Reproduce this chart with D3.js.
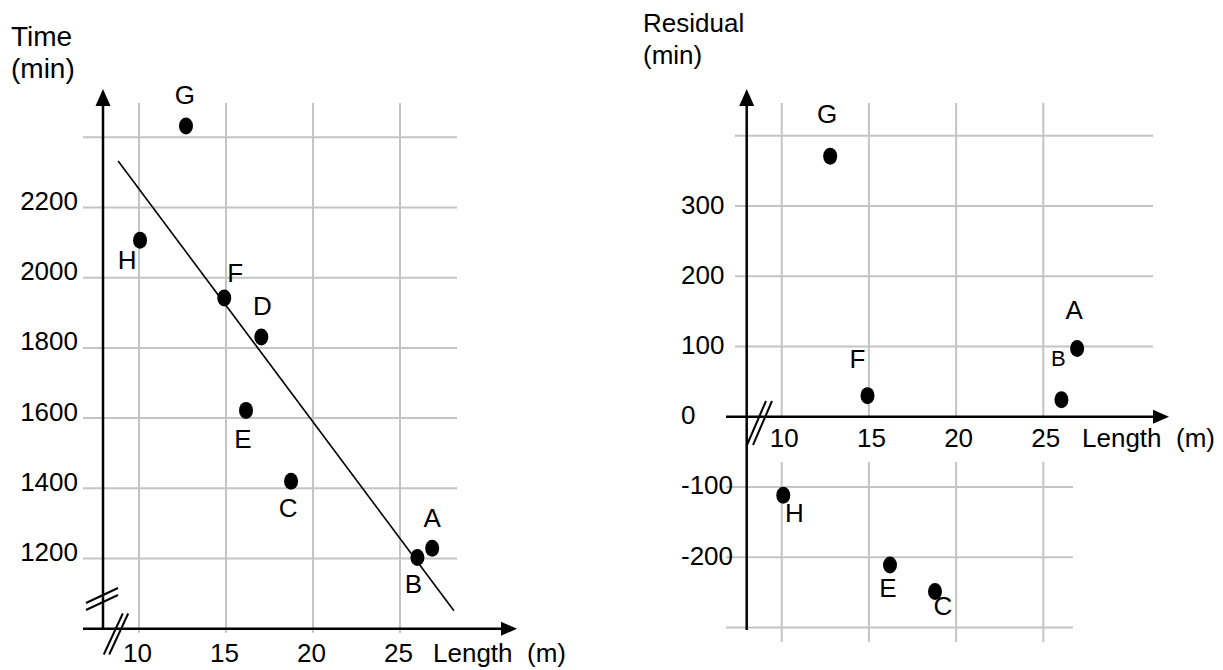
<!DOCTYPE html>
<html>
<head>
<meta charset="utf-8">
<script src="https://cdn.jsdelivr.net/npm/d3@7"></script>
<style>
  body { margin: 0; background: #fff; }
  svg { display: block; font-family: "Liberation Sans", Arial, sans-serif; }
</style>
</head>
<body>
<svg id="chart" width="1223" height="670"></svg>
<script>
// left plot: time against length
var timeNames = ["A", "B", "C", "D", "E", "F", "G", "H"];
var timeLength = [26.85, 26.0, 18.74, 17.03, 16.15, 14.9, 12.7, 10.06];
var timeValue = [1229, 1203, 1420, 1831, 1622, 1942, 2432, 2107];
var timeTicks = [1200, 1400, 1600, 1800, 2000, 2200];
var timeGrid = [1200, 1400, 1600, 1800, 2000, 2200, 2400];
var lengthTicks = [10, 15, 20, 25];

// fitted line, time = fitIntercept + fitSlope * length
var fitIntercept = 2917;
var fitSlope = -66.4;
var fitFrom = 8.8;
var fitTo = 28.1;

// right plot: residuals
var resNames = ["A", "B", "C", "E", "F", "G", "H"];
var resLength = [26.94, 26.04, 18.79, 16.21, 14.92, 12.78, 10.09];
var resValue = [97, 24, -249, -211, 30, 371, -112];
var resTicks = [-200, -100, 0, 100, 200, 300];
var resGridUp = [100, 200, 300, 400];
var resGridDown = [-100, -200, -300];

// label placement (px from the dot)
var timeLabelPos = { A: [0, -30], B: [-4, 27], C: [-3, 27], D: [1, -31], E: [-3, 29], F: [11, -25], G: [-1, -31], H: [-13, 20] };
var resLabelPos = { A: [-3, -39], B: [-3, -42], C: [8, 14], E: [-2, 23], F: [-10, -37], G: [-3, -42], H: [11, 18] };

var svg = d3.select("#chart");
var gridColor = "#c4c4c4";
var plain = function (d) { return String(d); };

function arrow(g, pts) {
  g.append("polygon").attr("points", pts.map(function (p) { return p.join(","); }).join(" ")).attr("fill", "#000");
}

function breakMark(g, cx, cy, dx, dy, ox, oy) {
  [-1, 1].forEach(function (s) {
    g.append("line")
      .attr("x1", cx + s * ox - dx).attr("y1", cy + s * oy - dy)
      .attr("x2", cx + s * ox + dx).attr("y2", cy + s * oy + dy)
      .attr("stroke", "#000").attr("stroke-width", 2);
  });
}

// ---------- left chart ----------
var xL = d3.scaleLinear().domain([10, 25]).range([139, 400]);
var yL = d3.scaleLinear().domain([1200, 2200]).range([558.5, 207.5]);
var left = svg.append("g");
var axisXL = 103, axisYL = yL(1000);

left.selectAll(".hgrid").data(timeGrid).enter().append("line")
  .attr("x1", 83).attr("x2", 457)
  .attr("y1", function (d) { return yL(d); }).attr("y2", function (d) { return yL(d); })
  .attr("stroke", gridColor).attr("stroke-width", 2);
left.selectAll(".vgrid").data(lengthTicks).enter().append("line")
  .attr("x1", function (d) { return xL(d); }).attr("x2", function (d) { return xL(d); })
  .attr("y1", 103).attr("y2", axisYL + 4)
  .attr("stroke", gridColor).attr("stroke-width", 2);

// axes
left.append("line").attr("x1", axisXL).attr("x2", axisXL).attr("y1", axisYL).attr("y2", 100)
  .attr("stroke", "#000").attr("stroke-width", 2.5);
left.append("line").attr("x1", 83).attr("x2", 505).attr("y1", axisYL).attr("y2", axisYL)
  .attr("stroke", "#000").attr("stroke-width", 2.5);
arrow(left, [[axisXL, 89], [axisXL - 7.5, 106], [axisXL + 7.5, 106]]);
arrow(left, [[517, axisYL], [501, axisYL - 7], [501, axisYL + 7]]);
breakMark(left, 102, 599, 16, -7.5, 0, 3.5);
breakMark(left, 116, 634, 9.5, -20.5, 2.7, 0);

var yAxL = left.append("g").attr("transform", "translate(78,0)")
  .call(d3.axisLeft(yL).tickValues(timeTicks).tickFormat(plain).tickSize(0).tickPadding(0));
var xAxL = left.append("g").attr("transform", "translate(0," + axisYL + ")")
  .call(d3.axisBottom(xL).tickValues(lengthTicks).tickFormat(plain).tickSize(0).tickPadding(0));
yAxL.selectAll("text").attr("dy", null).attr("y", 2);
xAxL.selectAll("text").attr("dy", null).attr("y", 33).attr("dx", -2);
[yAxL, xAxL].forEach(function (a) {
  a.select(".domain").remove();
  a.attr("font-size", 26).attr("font-family", null);
  a.selectAll("text").attr("fill", "#000");
});

// fitted line
left.append("line")
  .attr("x1", xL(fitFrom)).attr("y1", yL(fitIntercept + fitSlope * fitFrom))
  .attr("x2", xL(fitTo)).attr("y2", yL(fitIntercept + fitSlope * fitTo))
  .attr("stroke", "#000").attr("stroke-width", 1.6);

left.selectAll(".dot").data(timeNames).enter().append("ellipse")
  .attr("cx", function (d, i) { return xL(timeLength[i]); })
  .attr("cy", function (d, i) { return yL(timeValue[i]); })
  .attr("rx", 7).attr("ry", 8.5).attr("fill", "#000");
left.selectAll(".lab").data(timeNames).enter().append("text")
  .attr("x", function (d, i) { return xL(timeLength[i]) + timeLabelPos[d][0]; })
  .attr("y", function (d, i) { return yL(timeValue[i]) + timeLabelPos[d][1] + 9; })
  .attr("text-anchor", "middle").attr("font-size", 26).text(function (d) { return d; });

left.append("text").attr("x", 11).attr("y", 46).attr("font-size", 28).text("Time");
left.append("text").attr("x", 11).attr("y", 78).attr("font-size", 28).text("(min)");
left.append("text").attr("x", 433).attr("y", 662).attr("font-size", 26).attr("xml:space", "preserve").text("Length  (m)");

// ---------- right chart ----------
var xR = d3.scaleLinear().domain([10, 25]).range([781.7, 1043.3]);
var yR = d3.scaleLinear().domain([0, 300]).range([416.7, 206]);
var right = svg.append("g");
var axisXR = 746.7, axisYR = yR(0);

right.selectAll(".hgu").data(resGridUp).enter().append("line")
  .attr("x1", 735).attr("x2", 1153)
  .attr("y1", function (d) { return yR(d); }).attr("y2", function (d) { return yR(d); })
  .attr("stroke", gridColor).attr("stroke-width", 2);
right.selectAll(".hgd").data(resGridDown).enter().append("line")
  .attr("x1", 726).attr("x2", 1073)
  .attr("y1", function (d) { return yR(d); }).attr("y2", function (d) { return yR(d); })
  .attr("stroke", gridColor).attr("stroke-width", 2);
right.selectAll(".vgu").data(lengthTicks).enter().append("line")
  .attr("x1", function (d) { return xR(d); }).attr("x2", function (d) { return xR(d); })
  .attr("y1", 103).attr("y2", axisYR)
  .attr("stroke", gridColor).attr("stroke-width", 2);
right.selectAll(".vgd").data(lengthTicks).enter().append("line")
  .attr("x1", function (d) { return xR(d); }).attr("x2", function (d) { return xR(d); })
  .attr("y1", 462).attr("y2", 642)
  .attr("stroke", gridColor).attr("stroke-width", 2);

right.append("line").attr("x1", axisXR).attr("x2", axisXR).attr("y1", 630).attr("y2", 100)
  .attr("stroke", "#000").attr("stroke-width", 2.5);
right.append("line").attr("x1", 726).attr("x2", 1157).attr("y1", axisYR).attr("y2", axisYR)
  .attr("stroke", "#000").attr("stroke-width", 2.5);
arrow(right, [[axisXR, 89], [axisXR - 7.5, 106], [axisXR + 7.5, 106]]);
arrow(right, [[1169, axisYR], [1153, axisYR - 7], [1153, axisYR + 7]]);
breakMark(right, 759.5, 423, 9.5, -22, 3, 0);

var yAxR = right.append("g").attr("transform", "translate(681,0)")
  .call(d3.axisRight(yR).tickValues(resTicks).tickFormat(plain).tickSize(0).tickPadding(0));
var xAxR = right.append("g").attr("transform", "translate(0," + axisYR + ")")
  .call(d3.axisBottom(xR).tickValues(lengthTicks).tickFormat(plain).tickSize(0).tickPadding(0));
yAxR.selectAll("text").attr("dy", null).attr("y", 7);
xAxR.selectAll("text").attr("dy", null).attr("y", 30).attr("dx", 2);
[yAxR, xAxR].forEach(function (a) {
  a.select(".domain").remove();
  a.attr("font-size", 26).attr("font-family", null);
  a.selectAll("text").attr("fill", "#000");
});

right.selectAll(".dot").data(resNames).enter().append("ellipse")
  .attr("cx", function (d, i) { return xR(resLength[i]); })
  .attr("cy", function (d, i) { return yR(resValue[i]); })
  .attr("rx", 7).attr("ry", 8.5).attr("fill", "#000");
right.selectAll(".lab").data(resNames).enter().append("text")
  .attr("x", function (d, i) { return xR(resLength[i]) + resLabelPos[d][0]; })
  .attr("y", function (d, i) { return yR(resValue[i]) + resLabelPos[d][1] + (d === "B" ? 8 : 9); })
  .attr("text-anchor", "middle").attr("font-size", function (d) { return d === "B" ? 22 : 26; })
  .text(function (d) { return d; });

right.append("text").attr("x", 643).attr("y", 32).attr("font-size", 26).text("Residual");
right.append("text").attr("x", 643).attr("y", 64).attr("font-size", 26).text("(min)");
right.append("text").attr("x", 1082).attr("y", 447).attr("font-size", 26).attr("xml:space", "preserve").text("Length  (m)");
</script>
</body>
</html>
